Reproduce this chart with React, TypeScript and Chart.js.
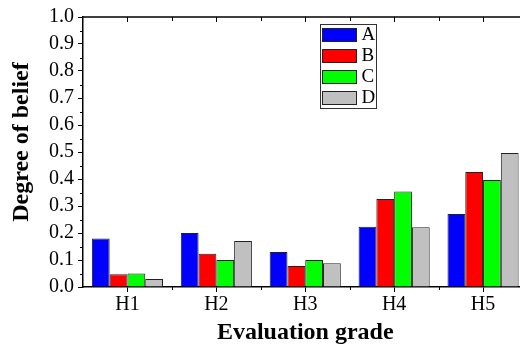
import React, { useEffect, useRef } from "react";
import { Chart, registerables } from "chart.js";

Chart.register(...registerables);

const categories = ["H1", "H2", "H3", "H4", "H5"];
const seriesLabels = ["A", "B", "C", "D"];
const seriesA = [0.18, 0.2, 0.13, 0.223, 0.27];
const seriesB = [0.047, 0.123, 0.078, 0.326, 0.426];
const seriesC = [0.05, 0.1, 0.1, 0.354, 0.396];
const seriesD = [0.03, 0.17, 0.088, 0.221, 0.496];
const seriesColors = ["#0000FF", "#FF0000", "#00FF00", "#C0C0C0"];
const yMin = 0;
const yMax = 1.0;
const yStep = 0.1;
const xTitle = "Evaluation grade";
const yTitle = "Degree of belief";

const SERIF = "'Liberation Serif', 'Times New Roman', serif";
Chart.defaults.font.family = SERIF;

const framePlugin = {
  id: "frame",
  afterDraw(chart: any) {
    const { ctx, chartArea: ca, scales } = chart;
    const x = scales.x;
    const y = scales.y;
    ctx.save();
    ctx.strokeStyle = "#000";
    const line = (x1: number, y1: number, x2: number, y2: number) => {
      ctx.beginPath();
      ctx.moveTo(x1, y1);
      ctx.lineTo(x2, y2);
      ctx.stroke();
    };
    // top frame line
    ctx.lineWidth = 1.5;
    line(ca.left, ca.top, ca.right, ca.top);
    ctx.lineWidth = 1;
    const n = categories.length;
    for (let i = 0; i < n; i++) {
      const px = Math.round(x.getPixelForValue(i)) + 0.5;
      line(px, ca.top, px, ca.top + 5);
    }
    for (let i = 0; i < n; i++) {
      const px = Math.round((x.getPixelForValue(i) + x.getPixelForValue(i + 1)) / 2) + 0.5;
      line(px, ca.top, px, ca.top + 4);
      line(px, ca.bottom, px, ca.bottom + 3);
    }
    // y minor ticks
    for (let v = yMin + yStep / 2; v < yMax; v += yStep) {
      const py = Math.round(y.getPixelForValue(v)) + 0.5;
      line(ca.left - 3, py, ca.left, py);
    }
    // legend
    const bx = ca.left + 237.5;
    const by = ca.top + 7.5;
    const bw = 56;
    const bh = 84;
    ctx.strokeStyle = "#333";
    ctx.strokeRect(bx, by, bw, bh);
    ctx.font = `19px ${SERIF}`;
    ctx.textBaseline = "middle";
    ctx.textAlign = "left";
    chart.data.datasets.forEach((ds: any, i: number) => {
      const sx = bx + 2;
      const sy = by + 4 + i * 21;
      ctx.fillStyle = ds.backgroundColor;
      ctx.fillRect(sx, sy, 34, 13);
      ctx.strokeStyle = "#222";
      ctx.strokeRect(sx, sy, 34, 13);
      ctx.fillStyle = "#000";
      ctx.fillText(ds.label, sx + 39, sy + 7);
    });
    // y title
    ctx.font = `bold 24px ${SERIF}`;
    ctx.fillStyle = "#000";
    ctx.textAlign = "center";
    ctx.textBaseline = "middle";
    ctx.translate(22, 142);
    ctx.rotate(-Math.PI / 2);
    ctx.fillText(yTitle, 0, 0);
    ctx.restore();
  },
};

export default function App() {
  const ref = useRef<HTMLCanvasElement | null>(null);
  useEffect(() => {
    if (!ref.current) return;
    const series = [seriesA, seriesB, seriesC, seriesD];
    const chart = new Chart(ref.current, {
      type: "bar",
      data: {
        labels: categories,
        datasets: series.map((d, i) => ({
          label: seriesLabels[i],
          data: d,
          backgroundColor: seriesColors[i],
          borderColor: "#222",
          borderWidth: 1,
          categoryPercentage: 0.8,
          barPercentage: 1.0,
        })),
      },
      options: {
        animation: false,
        responsive: false,
        devicePixelRatio: 1,
        layout: { padding: { top: 17, right: 12.5, left: 0, bottom: 0 } },
        plugins: { legend: { display: false }, tooltip: { enabled: false } },
        scales: {
          x: {
            type: "category",
            offset: true,
            grid: {
              display: true,
              drawOnChartArea: false,
              drawTicks: true,
              tickLength: 5,
              color: "#000",
              offset: false,
            },
            border: { display: true, color: "#000", width: 1.5 },
            ticks: { font: { family: SERIF, size: 20 }, color: "#000", padding: 1 },
            title: {
              display: true,
              text: xTitle,
              font: { family: SERIF, size: 24, weight: "bold" },
              color: "#000",
              padding: { top: 0, bottom: 0 },
            },
            afterFit: (s: any) => {
              s.height = 60;
            },
          },
          y: {
            min: yMin,
            max: yMax,
            grid: {
              display: true,
              drawOnChartArea: false,
              drawTicks: true,
              tickLength: 5,
              color: "#000",
            },
            border: { display: true, color: "#000", width: 1.5 },
            ticks: {
              stepSize: yStep,
              font: { family: SERIF, size: 20 },
              color: "#000",
              padding: 4,
              callback: (v: any) => Number(v).toFixed(1),
            },
            afterFit: (s: any) => {
              s.width = 83;
            },
          },
        },
      },
      plugins: [framePlugin],
    });
    return () => chart.destroy();
  }, []);
  return (
    <div style={{ position: "absolute", left: 0, top: 0, width: 540, height: 347, overflow: "hidden", background: "#fff" }}>
      <canvas ref={ref} width={540} height={347} style={{ width: 540, height: 347, display: "block" }} />
    </div>
  );
}
